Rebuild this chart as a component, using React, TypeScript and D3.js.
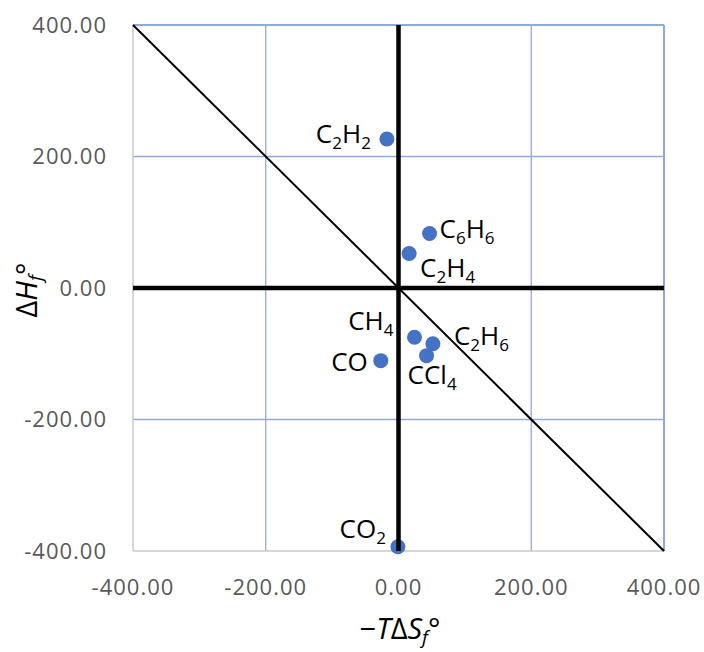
import React from "react";
import * as d3 from "d3";

// species, -TΔSf° (x) and ΔHf° (y), kJ/mol
const species = ["C2H2", "C6H6", "C2H4", "CH4", "C2H6", "CCl4", "CO", "CO2"];
const minusTdS = [-17.5, 46.8, 16.0, 24.1, 51.8, 42.3, -26.7, -0.9];
const deltaH = [226.7, 82.9, 52.4, -74.8, -84.7, -102.9, -110.5, -393.5];
const ticks = [-400, -200, 0, 200, 400];

// label placement relative to its dot (px)
const labelPos: Record<string, { dx: number; dy: number; anchor: string }> = {
  C2H2: { dx: -16, dy: 4, anchor: "end" },
  C6H6: { dx: 10, dy: 5, anchor: "start" },
  C2H4: { dx: 11, dy: 23, anchor: "start" },
  CH4: { dx: -21, dy: -7, anchor: "end" },
  C2H6: { dx: 21, dy: 1, anchor: "start" },
  CCl4: { dx: -19, dy: 28, anchor: "start" },
  CO: { dx: -13, dy: 10, anchor: "end" },
  CO2: { dx: -12, dy: -9, anchor: "end" },
};

const W = 704;
const H = 652;
const font = "'Open Sans', sans-serif";
const gridColor = "#8FAADC";
const axisColor = "#C8C8C8";
const tickColor = "#595959";

// split formula into text / subscript pieces
function formula(name: string) {
  const parts = name.match(/[A-Za-z]+|\d+/g) || [];
  let prevSub = false;
  return parts.map((p, i) => {
    const isSub = /\d/.test(p);
    const el = (
      <tspan
        key={i}
        fontSize={isSub ? 17 : 26}
        dy={isSub ? 6 : prevSub ? -6 : 0}
      >
        {p}
      </tspan>
    );
    prevSub = isSub;
    return el;
  });
}

export default function App() {
  const x = d3.scaleLinear().domain([-400, 400]).range([133, 664]);
  const y = d3.scaleLinear().domain([-400, 400]).range([551, 25]);
  const fmt = (v: number) => v.toFixed(2);

  const pts = species.map((s, i) => ({ s, x: x(minusTdS[i]), y: y(deltaH[i]) }));

  return (
    <svg
      width={W}
      height={H}
      style={{ position: "absolute", left: 0, top: 0, background: "#fff" }}
      fontFamily={font}
    >
      {/* grid */}
      {ticks.filter((t) => t !== -400).map((t) => (
        <line key={"gx" + t} x1={x(t)} x2={x(t)} y1={y(400)} y2={y(-400)} stroke={gridColor} strokeWidth={t === 400 ? 2 : 1.3} />
      ))}
      {ticks.filter((t) => t !== -400).map((t) => (
        <line key={"gy" + t} x1={x(-400)} x2={x(400)} y1={y(t)} y2={y(t)} stroke={gridColor} strokeWidth={t === 400 ? 2 : 1.3} />
      ))}
      {/* axis lines */}
      <line x1={x(-400)} x2={x(-400)} y1={y(400)} y2={y(-400)} stroke={axisColor} strokeWidth={1.5} />
      <line x1={x(-400)} x2={x(400)} y1={y(-400)} y2={y(-400)} stroke={axisColor} strokeWidth={1.5} />

      {/* tick labels */}
      {ticks.map((t) => (
        <text key={"ty" + t} x={107} y={y(t)} dy="0.36em" textAnchor="end" fontSize={22} letterSpacing={1} fill={tickColor}>
          {fmt(t)}
        </text>
      ))}
      {ticks.map((t) => (
        <text key={"tx" + t} x={x(t)} y={595} textAnchor="middle" fontSize={22} letterSpacing={1} fill={tickColor}>
          {fmt(t)}
        </text>
      ))}

      {/* points */}
      {pts.map((p) => (
        <circle key={p.s} cx={p.x} cy={p.y} r={7.5} fill="#4472C4" />
      ))}

      {/* diagonal and zero lines */}
      <line x1={x(-400)} y1={y(400)} x2={x(400)} y2={y(-400)} stroke="#000" strokeWidth={2} />
      <line x1={x(0)} x2={x(0)} y1={y(400)} y2={y(-400)} stroke="#000" strokeWidth={4.5} />
      <line x1={x(-400)} x2={x(400)} y1={y(0)} y2={y(0)} stroke="#000" strokeWidth={4.5} />

      {/* labels */}
      {pts.map((p) => {
        const lp = labelPos[p.s];
        return (
          <text key={"l" + p.s} x={p.x + lp.dx} y={p.y + lp.dy} textAnchor={lp.anchor} fill="#000">
            {formula(p.s)}
          </text>
        );
      })}

      {/* axis titles */}
      <text x={400} y={639} textAnchor="middle" fontSize={29} fill="#000">
        <tspan>−</tspan>
        <tspan fontStyle="italic">T</tspan>
        <tspan>Δ</tspan>
        <tspan fontStyle="italic">S</tspan>
        <tspan fontStyle="italic" fontSize={19} dy={5}>f</tspan>
        <tspan dy={-5}>°</tspan>
      </text>
      <text transform={`translate(37,290) rotate(-90)`} textAnchor="middle" fontSize={29} fill="#000">
        <tspan>Δ</tspan>
        <tspan fontStyle="italic">H</tspan>
        <tspan fontStyle="italic" fontSize={19} dy={5}>f</tspan>
        <tspan dy={-5}>°</tspan>
      </text>
    </svg>
  );
}
